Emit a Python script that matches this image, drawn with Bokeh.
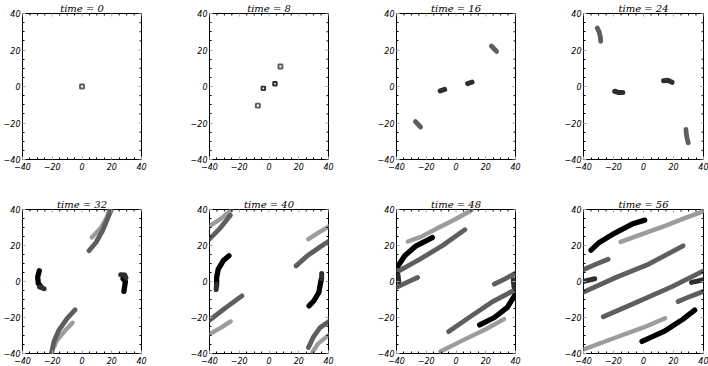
import math
from bokeh.plotting import figure
from bokeh.models import Range1d, FixedTicker, ColumnDataSource
from bokeh.layouts import column, row
from bokeh.embed import file_html
from bokeh.resources import INLINE

# ---------------- data ----------------
TIMES = [0, 8, 16, 24, 32, 40, 48, 56]
AXIS_MIN, AXIS_MAX = -40, 40
TICKS = [-40, -20, 0, 20, 40]
TICK_LABELS = ["\u221240", "\u221220", "0", "20", "40"]
MINOR = [-35, -30, -25, -15, -10, -5, 5, 10, 15, 25, 30, 35]

# small blobs (time 0 and 8)
T0_PX = [0.0]
T0_PY = [0.0]
T0_PT = ["mid"]
T8_PX = [7.7, 4.0, -3.8, -7.5]
T8_PY = [11.0, 1.5, -1.0, -10.5]
T8_PT = ["mid", "dark", "dark", "mid"]

# strokes: x lists, y lists, tone
T16_XS = [[23.8, 27.3], [-27.3, -23.8], [7.8, 10.8], [-10.6, -7.6]]
T16_YS = [[22.2, 19.2], [-19.2, -22.2], [1.6, 2.4], [-2.4, -1.6]]
T16_T = ["mid", "mid", "dark", "dark"]

T24_XS = [[-30.8, -29.6, -28.8, -28.5], [28.3, 28.6, 29.2, 29.8],
          [-19.2, -16.5, -13.8], [13.4, 16.2, 19.0]]
T24_YS = [[32.0, 30.0, 27.5, 24.8], [-23.5, -26.5, -28.8, -30.8],
          [-2.6, -3.3, -3.3], [3.2, 3.4, 2.3]]
T24_T = ["mid", "mid", "dark", "dark"]

T32_XS = [[6.6, 12.8, 16.7, 18.6], [-6.4, -11.2, -16.7, -19.9, -20.6],
          [4.7, 9.5, 13.8, 17.1, 19.7, 20.2], [-4.7, -10.1, -15.6, -18.9, -20.6, -21.0],
          [-28.7, -29.8, -29.4, -27.5], [27.6, 29.2, 28.6, 28.2],
          [-28.5, -25.5], [26.0, 28.8, 29.5]]
T32_YS = [[24.5, 30.0, 35.6, 41.0], [-23.0, -27.1, -32.6, -38.1, -41.0],
          [17.1, 21.8, 28.2, 34.7, 40.0, 42.0], [-15.7, -20.6, -27.1, -33.5, -40.0, -42.0],
          [6.0, 2.4, -1.0, -3.0], [1.5, 0.0, -3.1, -5.5],
          [-3.0, -4.0], [3.8, 3.6, 2.0]]
T32_T = ["light", "light", "mid", "mid", "black", "black", "dark", "dark"]

T40_XS = [[-41.5, -33.0, -25.4], [-41.5, -32.0, -25.8], [26.5, 33.0, 41.5], [29.1, 33.0, 41.5],
          [-41.5, -33.0, -26.0], [-41.5, -29.0, -18.2], [18.2, 25.8, 34.5, 41.5],
          [26.5, 29.6, 34.2, 41.5],
          [-26.9, -30.8, -34.1, -35.2, -35.2], [26.9, 30.2, 33.5, 34.5, 35.2],
          [-35.3, -35.5], [35.4, 35.4]]
T40_YS = [[30.0, 34.5, 39.6], [-30.0, -25.5, -22.2], [23.5, 27.0, 31.2], [-39.4, -34.5, -28.8],
          [22.3, 29.5, 36.8], [-22.5, -14.5, -8.0], [8.7, 14.3, 19.3, 23.0],
          [-36.7, -31.2, -25.7, -21.5],
          [14.3, 11.5, 6.9, 2.2, -1.9], [-13.5, -10.7, -6.1, -1.5, 1.5],
          [-1.5, -4.5], [1.5, 4.5]]
T40_T = ["light", "light", "light", "light", "mid", "mid", "mid", "mid",
         "black", "black", "dark", "dark"]

T48_XS = [[-32.3, -23.6, -11.5, -0.5, 10.4], [-10.4, 3.8, 20.0, 32.3],
          [-38.9, -24.0, -9.0, 6.0], [-4.9, 10.4, 25.0, 41.5],
          [-41.5, -33.0, -25.8], [25.8, 33.0, 41.5],
          [-38.9, -34.5, -26.8, -15.9], [15.9, 25.8, 34.5, 39.3],
          [-39.0, -38.5], [38.5, 39.0]]
T48_YS = [[22.2, 24.8, 30.0, 34.6, 39.6], [-38.9, -33.0, -26.5, -20.9],
          [5.6, 12.5, 20.0, 28.8], [-27.8, -19.1, -11.0, -3.8],
          [-3.8, -0.5, 2.2], [-1.5, 1.5, 5.3],
          [8.7, 14.3, 19.8, 24.4], [-24.1, -20.0, -14.4, -8.0],
          [3.8, 0.0], [1.0, -3.0]]
T48_T = ["light", "light", "mid", "mid", "mid", "mid", "black", "black", "dark", "dark"]

T56_XS = [[-15.2, -1.0, 14.4, 27.5, 41.5], [-41.5, -18.5, 0.0, 14.4],
          [-41.5, -32.0, -23.6], [-41.5, -18.5, 3.4, 26.4], [-26.8, -7.6, 18.7, 41.5],
          [23.1, 32.0, 41.5],
          [-35.0, -29.5, -18.5, -7.6, 0.8], [-1.0, 14.4, 26.4, 34.1],
          [-40.5, -32.5], [32.0, 41.0]]
T56_YS = [[22.0, 26.3, 30.9, 35.2, 39.5], [-38.2, -31.1, -25.5, -20.4],
          [6.0, 9.5, 12.4], [-6.5, 2.2, 9.6, 19.8], [-19.6, -12.6, -3.0, 6.5],
          [-11.1, -8.0, -5.0],
          [17.4, 21.7, 27.2, 31.9, 34.1], [-33.3, -27.4, -20.9, -15.9],
          [0.0, 1.5], [-0.5, 1.2]]
T56_T = ["light", "light", "mid", "mid", "mid", "mid", "black", "black", "dark", "dark"]

POINTS = {0: (T0_PX, T0_PY, T0_PT), 8: (T8_PX, T8_PY, T8_PT)}
STROKES = {16: (T16_XS, T16_YS, T16_T), 24: (T24_XS, T24_YS, T24_T),
           32: (T32_XS, T32_YS, T32_T), 40: (T40_XS, T40_YS, T40_T),
           48: (T48_XS, T48_YS, T48_T), 56: (T56_XS, T56_YS, T56_T)}

# ---------------- styles ----------------
COLORS = {"black": "#000000", "dark": "#2e2e2e", "mid": "#5e5e5e", "light": "#9c9c9c"}
WIDTHS = {"black": 5.3, "dark": 5.0, "mid": 4.8, "light": 4.4}
ORDER = ["light", "mid", "black", "dark"]
MAJOR_TICK_COLOR = "#a8a8a8"

COL_W = [187, 187, 187, 147]
COL_L = [19, 19, 19, 20]
FRAME_W = 122
ROW_H = [196, 170]
ROW_T = [13, 13]
FRAME_H = [146, 144]

LABEL_FONT = "DejaVu Sans"
TITLE_FONT = "DejaVu Serif"


def style_axis(ax, standoff):
    ax.ticker = FixedTicker(ticks=TICKS, minor_ticks=MINOR)
    ax.axis_line_color = None
    ax.major_tick_in = 3
    ax.major_tick_out = 0
    ax.minor_tick_in = 2
    ax.minor_tick_out = 0
    ax.major_tick_line_color = MAJOR_TICK_COLOR
    ax.minor_tick_line_color = "#000000"
    ax.major_label_overrides = {t: s for t, s in zip(TICKS, TICK_LABELS)}
    ax.major_label_text_font = LABEL_FONT
    ax.major_label_text_font_style = "italic"
    ax.major_label_text_font_size = "8px"
    ax.major_label_text_color = "#000000"
    ax.major_label_standoff = standoff


def edge_ticks(p):
    # tick marks on the top and right frame edges (outer half is clipped by the frame)
    p.scatter(TICKS, [AXIS_MAX] * len(TICKS), marker="dash", angle=math.pi / 2, size=6,
              line_color=MAJOR_TICK_COLOR, line_width=1)
    p.scatter(MINOR, [AXIS_MAX] * len(MINOR), marker="dash", angle=math.pi / 2, size=4,
              line_color="#000000", line_width=1)
    p.scatter([AXIS_MAX] * len(TICKS), TICKS, marker="dash", size=6,
              line_color=MAJOR_TICK_COLOR, line_width=1)
    p.scatter([AXIS_MAX] * len(MINOR), MINOR, marker="dash", size=4,
              line_color="#000000", line_width=1)


def make_panel(k, t):
    r = k // 4
    c = k % 4
    p = figure(width=COL_W[c], height=ROW_H[r], output_backend="svg",
               toolbar_location=None, title=f"time = {t}",
               x_range=Range1d(AXIS_MIN, AXIS_MAX), y_range=Range1d(AXIS_MIN, AXIS_MAX),
               min_border_left=COL_L[c], min_border_right=COL_W[c] - COL_L[c] - FRAME_W,
               min_border_top=ROW_T[r], min_border_bottom=ROW_H[r] - ROW_T[r] - FRAME_H[r])
    p.grid.visible = False
    p.outline_line_color = "#000000"
    p.outline_line_width = 1
    p.background_fill_color = "white"
    p.border_fill_color = "white"
    style_axis(p.xaxis[0], 3)
    style_axis(p.yaxis[0], 2)

    p.title.align = "center"
    p.title.text_font = TITLE_FONT
    p.title.text_font_style = "italic"
    p.title.text_font_size = "10px"
    p.title.text_color = "#000000"
    p.title.standoff = 0
    p.title.offset = 0

    if t in STROKES:
        xs, ys, tones = STROKES[t]
        for tone in ORDER:
            idx = [i for i, tn in enumerate(tones) if tn == tone]
            if not idx:
                continue
            src = ColumnDataSource(dict(xs=[xs[i] for i in idx], ys=[ys[i] for i in idx]))
            p.multi_line("xs", "ys", source=src, line_color=COLORS[tone],
                         line_width=WIDTHS[tone], line_cap="round", line_join="round")
    if t in POINTS:
        px, py, tones = POINTS[t]
        for tone in ORDER:
            idx = [i for i, tn in enumerate(tones) if tn == tone]
            if not idx:
                continue
            p.scatter([px[i] for i in idx], [py[i] for i in idx], marker="square",
                      size=4.0 if tone == "mid" else 3.5, line_color=COLORS[tone],
                      line_width=1.9, fill_color="white")
    edge_ticks(p)
    return p


panels = [make_panel(k, t) for k, t in enumerate(TIMES)]
layout = column(row(*panels[:4]), row(*panels[4:]))

open("out.html", "w").write(file_html(layout, INLINE))
